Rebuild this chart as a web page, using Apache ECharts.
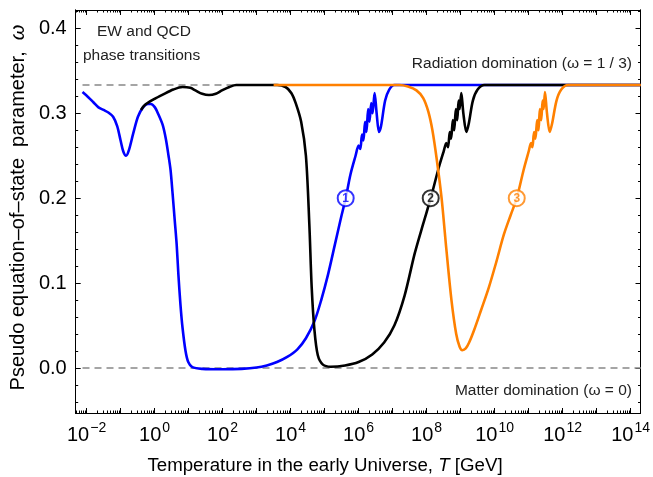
<!DOCTYPE html>
<html><head><meta charset="utf-8">
<script src="https://cdn.jsdelivr.net/npm/echarts@6/dist/echarts.min.js"></script>
<style>html,body{margin:0;padding:0;background:#fff}#c{width:653px;height:477px}</style>
</head><body><div id="c"></div>
<script>
// x values are log10(T / GeV), y values are omega
const blueLogT = [-2.12,-1.95,-1.80,-1.65,-1.50,-1.36,-1.22,-1.10,-1.00,-0.92,-0.84,-0.76,-0.63,-0.49,-0.34,-0.20,-0.11,0.01,0.12,0.24,0.33,0.41,0.47,0.53,0.59,0.65,0.70,0.76,0.82,0.91,0.99,1.11,1.40,2.00,2.56,3.00,3.30,3.60,3.90,4.20,4.45,4.70,4.90,5.10,5.30,5.47,5.62,5.76,5.91,6.00,6.05,6.10,6.14,6.19,6.23,6.28,6.32,6.37,6.41,6.47,6.53,6.60,6.66,6.78,6.90,7.05,14.3];
const blueOmega = [0.325,0.319,0.313,0.307,0.304,0.301,0.296,0.285,0.268,0.255,0.250,0.256,0.276,0.296,0.307,0.311,0.311,0.307,0.298,0.286,0.270,0.250,0.233,0.205,0.175,0.145,0.110,0.075,0.048,0.020,0.007,0.001,-0.001,-0.0015,-0.001,0.0005,0.003,0.007,0.013,0.022,0.035,0.055,0.080,0.110,0.145,0.175,0.200,0.228,0.250,0.262,0.258,0.275,0.268,0.290,0.278,0.305,0.290,0.312,0.300,0.324,0.300,0.278,0.285,0.315,0.328,0.3333,0.3333];

const blackLogT = [-0.40,-0.28,0.00,0.24,0.55,0.82,1.05,1.20,1.40,1.60,1.80,1.98,2.20,2.40,3.60,3.85,4.02,4.15,4.31,4.45,4.55,4.62,4.70,4.80,4.95,5.18,5.60,6.00,6.40,6.75,7.05,7.35,7.65,7.90,8.12,8.35,8.50,8.58,8.63,8.68,8.72,8.77,8.81,8.86,8.90,8.94,8.97,9.02,9.08,9.17,9.24,9.36,9.50,9.70,14.3];
const blackOmega = [0.304,0.310,0.317,0.322,0.328,0.331,0.330,0.327,0.323,0.3215,0.323,0.327,0.331,0.3333,0.3333,0.331,0.324,0.312,0.290,0.250,0.170,0.095,0.045,0.015,0.004,0.0015,0.003,0.007,0.016,0.030,0.050,0.085,0.135,0.170,0.200,0.235,0.255,0.265,0.260,0.278,0.270,0.292,0.280,0.305,0.292,0.315,0.305,0.324,0.300,0.278,0.288,0.315,0.328,0.3333,0.3333];

const orangeLogT = [3.50,7.20,7.45,7.70,7.90,8.05,8.17,8.30,8.44,8.58,8.73,8.87,8.97,9.05,9.15,9.25,9.40,9.60,9.83,10.05,10.27,10.47,10.65,10.85,11.00,11.07,11.11,11.16,11.20,11.25,11.29,11.33,11.37,11.41,11.44,11.48,11.54,11.62,11.69,11.82,11.96,12.16,14.3];
const orangeOmega = [0.3333,0.3333,0.3315,0.327,0.318,0.302,0.280,0.245,0.200,0.140,0.080,0.040,0.025,0.021,0.023,0.030,0.045,0.068,0.095,0.125,0.157,0.180,0.200,0.233,0.255,0.265,0.260,0.278,0.270,0.292,0.280,0.305,0.292,0.315,0.305,0.325,0.300,0.278,0.288,0.315,0.328,0.3333,0.3333];

const markerLogT = [5.62, 8.12, 10.65];
const markerOmega = [0.2, 0.2, 0.2];
const markerLabels = ['1', '2', '3'];

const refLogT = [-2.12, 14.3];
const radiationOmega = [1/3, 1/3];
const matterOmega = [0, 0];

const xLabelExps = [-2, 0, 2, 4, 6, 8, 10, 12, 14];
const xMajorExps = [-2,-1,0,1,2,3,4,5,6,7,8,9,10,11,12,13,14];
const yLabels = [0.0, 0.1, 0.2, 0.3, 0.4];

const X_MIN = -2.32, X_MAX = 14.29, Y_MIN = -0.053, Y_MAX = 0.4217;

const xMinor = [];
for (let n = -3; n <= 14; n++) for (let k = 2; k <= 9; k++) {
  const v = n + Math.log10(k);
  if (v > X_MIN && v < X_MAX) xMinor.push(v);
}
const yMinor = [];
for (let i = -2; i <= 21; i++) { const v = i * 0.02; if (v > Y_MIN && v < Y_MAX) yMinor.push(+v.toFixed(3)); }
const yMajor = yLabels.slice();

const zip = (a, b) => a.map((v, i) => [v, b[i]]);
const FONT = 'Liberation Sans';
const axisLine = { show: true, onZero: false, lineStyle: { color: '#000', width: 1 } };

function xAx(pos, ticks, len, labels) {
  return {
    type: 'value', position: pos, min: X_MIN, max: X_MAX,
    axisLine: axisLine, splitLine: { show: false },
    axisTick: { show: true, inside: true, length: len, customValues: ticks, lineStyle: { color: '#000', width: 1 } },
    axisLabel: labels ? {
      show: true, customValues: xLabelExps, margin: 8,
      formatter: v => '{b|10}{s|' + (v < 0 ? '\u2212' + (-v) : v) + '}',
      rich: {
        b: { fontFamily: FONT, fontSize: 20, color: '#000', lineHeight: 24, verticalAlign: 'bottom' },
        s: { fontFamily: FONT, fontSize: 14, color: '#000', lineHeight: 24, verticalAlign: 'top', padding: [0, 0, 0, 1] }
      }
    } : { show: false }
  };
}
function yAx(pos, ticks, len, labels) {
  return {
    type: 'value', position: pos, min: Y_MIN, max: Y_MAX,
    axisLine: axisLine, splitLine: { show: false },
    axisTick: { show: true, inside: true, length: len, customValues: ticks, lineStyle: { color: '#000', width: 1 } },
    axisLabel: labels ? {
      show: true, customValues: yLabels, margin: 9,
      formatter: v => v.toFixed(1),
      fontFamily: FONT, fontSize: 20, color: '#000'
    } : { show: false }
  };
}

const xAxes = [xAx('bottom', xMajorExps, 5, true), xAx('bottom', xMinor, 2.5, false), xAx('top', xMajorExps, 5, false), xAx('top', xMinor, 2.5, false)];
const yAxes = [yAx('left', yMajor, 5, true), yAx('left', yMinor, 2.5, false), yAx('right', yMajor, 5, false), yAx('right', yMinor, 2.5, false)];
yAxes[0].name = '{n|Pseudo equation\u2013of\u2013state  parameter,  }{i|\u03c9}';
yAxes[0].nameLocation = 'middle';
yAxes[0].nameGap = 45;
yAxes[0].nameTextStyle = { padding: [0, 0, 0, 8], rich: { n: { fontFamily: FONT, fontSize: 20, color: '#000' }, i: { fontFamily: FONT, fontSize: 20, fontStyle: 'italic', color: '#000' } } };

const lineSeries = (data, color, z, extra) => Object.assign({
  type: 'line', data: data, showSymbol: false, symbol: 'none', smooth: 0.3, z: z,
  lineStyle: { color: color, width: 2.6 }, silent: true, animation: false
}, extra || {});

const ANN = '15.5px "Liberation Sans"';
const option = {
  animation: false,
  grid: { left: 72, right: 10, top: 10, bottom: 64 },
  xAxis: xAxes,
  yAxis: yAxes,
  series: [
    lineSeries(zip(refLogT, radiationOmega), '#888', 1, { smooth: false, lineStyle: { color: '#888', width: 1.5, type: [7, 5] } }),
    lineSeries(zip(refLogT, matterOmega), '#888', 1, { smooth: false, lineStyle: { color: '#888', width: 1.5, type: [7, 5] } }),
    lineSeries(zip(blueLogT, blueOmega), '#0000ff', 2),
    lineSeries(zip(blackLogT, blackOmega), '#000000', 3),
    lineSeries(zip(orangeLogT, orangeOmega), '#ff8000', 4),
    {
      type: 'scatter', z: 10, symbol: 'circle', symbolSize: 16,
      data: markerLogT.map((v, i) => ({ value: [v, markerOmega[i]], name: markerLabels[i],
        itemStyle: { color: '#fff', borderColor: ['#0000ff', '#000000', '#ff8000'][i], borderWidth: 2 },
        label: { color: ['#0000ff', '#000000', '#ff8000'][i] } })),
      label: { show: true, position: 'inside', formatter: p => p.name, fontFamily: FONT, fontSize: 12, fontWeight: 'bold' },
      silent: true
    }
  ],
  graphic: [
    { type: 'text', left: 97, top: 24, style: { text: 'EW and QCD', font: ANN, fill: '#222' } },
    { type: 'text', left: 83, top: 48, style: { text: 'phase transitions', font: ANN, fill: '#222' } },
    { type: 'text', right: 21, top: 56, style: { text: 'Radiation domination (\u03c9 = 1 / 3)', font: ANN, fill: '#222' } },
    { type: 'text', right: 21, top: 383, style: { text: 'Matter domination (\u03c9 = 0)', font: ANN, fill: '#222' } },
    { type: 'text', x: 325, y: 466, style: {
        text: '{n|Temperature in the early Universe, }{i|T}{n| [GeV]}',
        align: 'center', verticalAlign: 'middle',
        rich: { n: { fontFamily: FONT, fontSize: 18.7, fill: '#000' }, i: { fontFamily: FONT, fontSize: 18.7, fontStyle: 'italic', fill: '#000' } }
      } }
  ]
};
echarts.init(document.getElementById('c')).setOption(option);
</script></body></html>
